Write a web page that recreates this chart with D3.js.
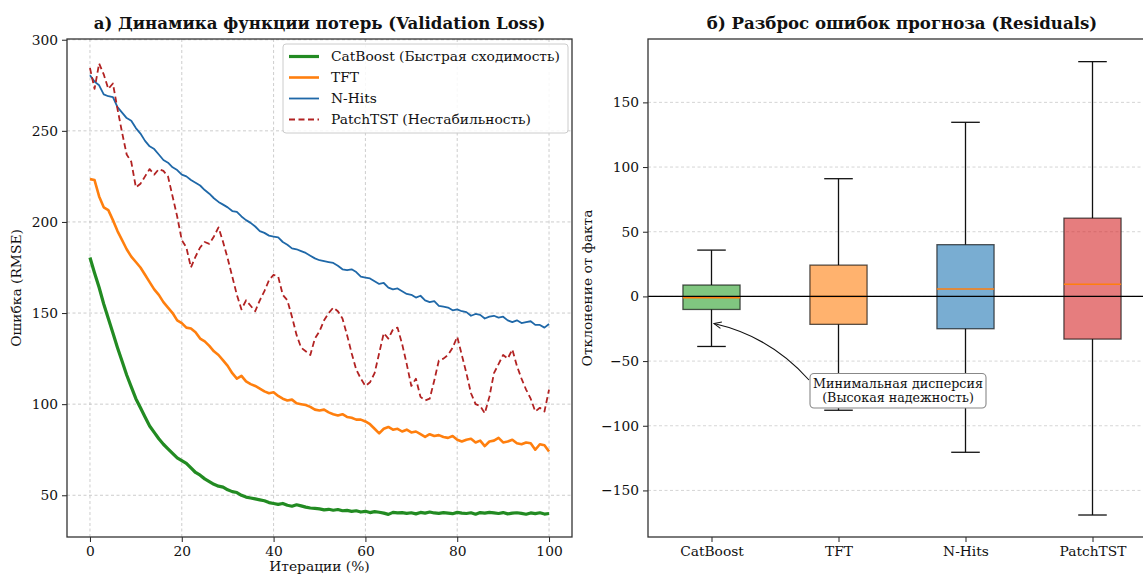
<!DOCTYPE html>
<html><head><meta charset="utf-8">
<script src="https://cdn.jsdelivr.net/npm/d3@7"></script>
<style>
body{margin:0;background:#fff}
svg{display:block}
text{font-family:"DejaVu Serif",serif;fill:#111}
</style>
</head><body>
<svg id="c" width="1143" height="575"></svg>
<script>
// ---------- data: panel a (validation loss, one value per iteration %) ----------
const catboostLoss = [180.5,172,164,155,147,139,131,123.5,116,109.5,103,98,93,88,84.5,81,78,75.5,73,70.5,
69,67.5,65,62.5,61,59,57.5,56,55,54.5,53,52,51.5,50,49,48.5,48,47.5,47,46,
45.5,45,45.5,44.5,44,44.8,44.2,43.5,43,42.8,42.5,42,42.3,41.8,42.2,41.5,41.7,41.2,41.5,40.8,
41.2,40.5,41,40.7,40.2,39.5,40.6,40.3,40.5,40.1,40.4,39.8,40.6,40.2,40.8,40.3,40.1,40.5,40.2,39.9,
40.6,40.2,40,40.4,39.6,40.5,40.2,40.6,40.3,40,40.5,39.8,40.2,40.4,40.1,39.6,40.3,39.9,40.4,39.7,40];
const tftLoss = [223.5,223,214,208,206.5,201,195,190,185,181,178,175,171,167,163,160,156,153,150,146,
144.5,142,141.5,139.5,136,134.5,132,129,127,124,121,117,114,115.5,112.5,111,110,108.5,107,106,
106.5,104.5,103,102,102.5,100.5,100,99.5,98.5,97,96.5,97,95.5,94.5,93.8,94.5,93,92.5,91.5,91.5,
90.5,89,86.5,84,86.5,87.5,86,86.5,85,86,84.5,85,83.5,82,83.5,82.5,83,82,81.5,82.5,
80.5,79.5,80.5,81,79,80,77,79.5,80,81.5,79,79.5,80.5,78.5,78,79,78.5,75,78,77.5,74];
const nhitsLoss = [280.5,277,275,270,269,268.5,263,260,257,255.5,251.5,248.5,244.5,241.5,240,237,234,232.5,230,228.5,
226,225,223,221.5,220,217.5,215.5,213,211,209.5,208,206,205.5,203,201,199.5,197.5,195,194,192.5,
192,191.5,189,187.5,185.5,185,184,183,181.5,180,179,178.5,178,177.5,176,174,173.5,174,172.5,170,
169.5,169,167.5,166,166.5,164,163,163.5,162,160.5,160,158.5,159.5,157,156,156.5,154,153.5,153,151.5,
152,151,150.5,148.5,149.5,149,147,148,148.5,147.5,148,146,145,146,144.5,145,145.5,143.5,143.5,142,144];
const patchtstLoss = [284.5,273,287,281,273,276,262,249,237,233,219,221,225,229,226,229,228,225,214,203,
190,186,175,181,186,189,188,192,197,189,180,170,160,152,157,154,151,157,162,168,
171,170,160,157,148,138,131,129,127,136,140,146,150,153,151,147,138,128,119,114,
110,112,117,128,139,136,141,142,133,122,110,114,104,102,103,113,124,125,127,131,
137,127,117,106,100,99,95,104,117,122,127,125,130,121,114,108,103,96,98,96,108];
const lossSeries = ["CatBoost (Быстрая сходимость)","TFT","N-Hits","PatchTST (Нестабильность)"];
const lossTicksX = [0,20,40,60,80,100];
const lossTicksY = [50,100,150,200,250,300];

// ---------- data: panel b (residual boxplots) ----------
const models = ["CatBoost","TFT","N-Hits","PatchTST"];
const whiskerLow  = [-38.7,-88,-120.5,-169];
const q1          = [-10.1,-21.6,-25,-33];
const medians     = [-1,0,5.7,9.4];
const q3          = [8.8,24.2,40,60.5];
const whiskerHigh = [35.8,91,134.6,181.5];
const residTicks  = [-150,-100,-50,0,50,100,150];

// ---------- drawing ----------
const svg = d3.select("#c");
const FS = 13.8;

function styleAxis(g){
  g.selectAll("path.domain").remove();
  g.selectAll(".tick line").attr("stroke","#222").attr("stroke-width",1);
  g.selectAll(".tick text").attr("font-size",FS).attr("font-family","DejaVu Serif").attr("fill","#111");
}

// ===== Panel a =====
const A = {l:67, r:572, t:39, b:537};
const xA = d3.scaleLinear().domain([-5,105]).range([A.l,A.r]);
const yA = d3.scaleLinear().domain([27.1,300.4]).range([A.b,A.t]);
const gA = svg.append("g");

gA.append("g").selectAll("line").data(lossTicksX).join("line")
  .attr("x1",d=>xA(d)).attr("x2",d=>xA(d)).attr("y1",A.t).attr("y2",A.b)
  .attr("stroke","#b0b0b0").attr("stroke-opacity",0.7).attr("stroke-dasharray","3,2.5").attr("stroke-width",0.9);
gA.append("g").selectAll("line").data(lossTicksY).join("line")
  .attr("y1",d=>yA(d)).attr("y2",d=>yA(d)).attr("x1",A.l).attr("x2",A.r)
  .attr("stroke","#b0b0b0").attr("stroke-opacity",0.7).attr("stroke-dasharray","3,2.5").attr("stroke-width",0.9);

const lineGen = d3.line().x((d,i)=>xA(i)).y(d=>yA(d));
const lossData = [
  {vals:catboostLoss, color:"#228B22", w:3.2, dash:null},
  {vals:tftLoss, color:"#ff7f0e", w:2.6, dash:null},
  {vals:nhitsLoss, color:"#1f68a8", w:1.8, dash:null},
  {vals:patchtstLoss, color:"#b22222", w:1.8, dash:"6,3.5"}
];
lossData.forEach(s=>{
  gA.append("path").datum(s.vals).attr("d",lineGen).attr("fill","none")
    .attr("stroke",s.color).attr("stroke-width",s.w).attr("stroke-linejoin","round")
    .attr("stroke-dasharray",s.dash);
});

gA.append("g").attr("transform",`translate(0,${A.b})`)
  .call(d3.axisBottom(xA).tickValues(lossTicksX).tickSize(5).tickPadding(4)).call(styleAxis);
gA.append("g").attr("transform",`translate(${A.l},0)`)
  .call(d3.axisLeft(yA).tickValues(lossTicksY).tickSize(5).tickPadding(4)).call(styleAxis);
gA.append("rect").attr("x",A.l).attr("y",A.t).attr("width",A.r-A.l).attr("height",A.b-A.t)
  .attr("fill","none").attr("stroke","#333").attr("stroke-width",1.3);

// legend
const leg = gA.append("g");
leg.append("rect").attr("x",283).attr("y",44).attr("width",285).attr("height",89).attr("rx",3)
  .attr("fill","#fff").attr("fill-opacity",0.85).attr("stroke","#cccccc");
lossData.forEach((s,i)=>{
  const yy = 56.5 + i*21;
  leg.append("line").attr("x1",289).attr("x2",319).attr("y1",yy).attr("y2",yy)
    .attr("stroke",s.color).attr("stroke-width",s.w).attr("stroke-dasharray",s.dash);
  leg.append("text").attr("x",331).attr("y",yy).attr("dy","0.35em").attr("font-size",FS).text(lossSeries[i]);
});

svg.append("text").attr("x",(A.l+A.r)/2).attr("y",29).attr("text-anchor","middle")
  .attr("font-size",16.6).attr("font-weight","bold").text("а) Динамика функции потерь (Validation Loss)");
svg.append("text").attr("transform",`translate(21,${(A.t+A.b)/2}) rotate(-90)`).attr("text-anchor","middle")
  .attr("font-size",FS).text("Ошибка (RMSE)");
svg.append("text").attr("x",(A.l+A.r)/2).attr("y",570.5).attr("text-anchor","middle")
  .attr("font-size",FS).text("Итерации (%)");

// ===== Panel b =====
const B = {l:648, r:1156, t:39, b:537};
const xB = d3.scaleLinear().domain([0.5,4.5]).range([B.l,B.r]);
const yB = d3.scaleLinear().domain([-186,199]).range([B.b,B.t]);
const gB = svg.append("g");

gB.append("g").selectAll("line").data(residTicks).join("line")
  .attr("y1",d=>yB(d)).attr("y2",d=>yB(d)).attr("x1",B.l).attr("x2",B.r)
  .attr("stroke","#b0b0b0").attr("stroke-opacity",0.6).attr("stroke-dasharray","3,2.5").attr("stroke-width",0.9);

const boxColors = ["#2ca02c","#ff7f0e","#1f77b4","#d62728"];
const bw = 0.45, cw = 0.225;
models.forEach((m,i)=>{
  const cx = xB(i+1);
  const g = gB.append("g");
  g.append("line").attr("x1",cx).attr("x2",cx).attr("y1",yB(q3[i])).attr("y2",yB(whiskerHigh[i]))
    .attr("stroke","#111").attr("stroke-width",1.3);
  g.append("line").attr("x1",cx).attr("x2",cx).attr("y1",yB(q1[i])).attr("y2",yB(whiskerLow[i]))
    .attr("stroke","#111").attr("stroke-width",1.3);
  [whiskerHigh[i],whiskerLow[i]].forEach(v=>{
    g.append("line").attr("x1",xB(i+1-cw/2)).attr("x2",xB(i+1+cw/2)).attr("y1",yB(v)).attr("y2",yB(v))
      .attr("stroke","#111").attr("stroke-width",1.3);
  });
  g.append("rect").attr("x",xB(i+1-bw/2)).attr("width",xB(i+1+bw/2)-xB(i+1-bw/2))
    .attr("y",yB(q3[i])).attr("height",yB(q1[i])-yB(q3[i]))
    .attr("fill",boxColors[i]).attr("fill-opacity",0.6)
    .attr("stroke","#000").attr("stroke-opacity",0.65).attr("stroke-width",1.3);
  g.append("line").attr("x1",xB(i+1-bw/2)).attr("x2",xB(i+1+bw/2)).attr("y1",yB(medians[i])).attr("y2",yB(medians[i]))
    .attr("stroke","#ff7f0e").attr("stroke-width",1.5);
});

gB.append("line").attr("x1",B.l).attr("x2",B.r).attr("y1",yB(0)).attr("y2",yB(0))
  .attr("stroke","#000").attr("stroke-width",1.4);

gB.append("g").attr("transform",`translate(0,${B.b})`)
  .call(d3.axisBottom(xB).tickValues([1,2,3,4]).tickFormat(d=>models[d-1]).tickSize(5).tickPadding(4)).call(styleAxis);
gB.append("g").attr("transform",`translate(${B.l},0)`)
  .call(d3.axisLeft(yB).tickValues(residTicks).tickFormat(d=>d<0?"\u2212"+Math.abs(d):d).tickSize(5).tickPadding(4)).call(styleAxis);
gB.append("rect").attr("x",B.l).attr("y",B.t).attr("width",B.r-B.l).attr("height",B.b-B.t)
  .attr("fill","none").attr("stroke","#333").attr("stroke-width",1.3);

// annotation
const annX = xB(1.02), annY = yB(-21);
const boxL = 810, boxR = 986, boxT = 373.5, boxB = 408;
const sx = boxL-1, sy = 380;
const mx = (sx+annX)/2, my = (sy+annY)/2;
const dx = annX - sx, dy = annY - sy;
const rad = 0.16;
const ctrlX = mx - rad*dy, ctrlY = my + rad*dx;
gB.append("path").attr("d",`M${sx},${sy} Q${ctrlX},${ctrlY} ${annX},${annY}`)
  .attr("fill","none").attr("stroke","#111").attr("stroke-width",1.1);
const ang = Math.atan2(annY-ctrlY, annX-ctrlX);
const hl = 8, ha = 0.42;
gB.append("path").attr("d",`M${annX-hl*Math.cos(ang-ha)},${annY-hl*Math.sin(ang-ha)} L${annX},${annY} L${annX-hl*Math.cos(ang+ha)},${annY-hl*Math.sin(ang+ha)}`)
  .attr("fill","none").attr("stroke","#111").attr("stroke-width",1.1);
gB.append("rect").attr("x",boxL).attr("y",boxT).attr("width",boxR-boxL).attr("height",boxB-boxT).attr("rx",4)
  .attr("fill","#fff").attr("stroke","#888").attr("stroke-width",1.1);
gB.append("text").attr("x",(boxL+boxR)/2).attr("y",383.5).attr("dy","0.35em").attr("text-anchor","middle")
  .attr("font-size",12.7).text("Минимальная дисперсия");
gB.append("text").attr("x",(boxL+boxR)/2).attr("y",398).attr("dy","0.35em").attr("text-anchor","middle")
  .attr("font-size",12.7).text("(Высокая надежность)");

svg.append("text").attr("x",(B.l+B.r)/2).attr("y",29).attr("text-anchor","middle")
  .attr("font-size",16.6).attr("font-weight","bold").text("б) Разброс ошибок прогноза (Residuals)");
svg.append("text").attr("transform",`translate(592,${(B.t+B.b)/2}) rotate(-90)`).attr("text-anchor","middle")
  .attr("font-size",FS).text("Отклонение от факта");
</script>
</body></html>
